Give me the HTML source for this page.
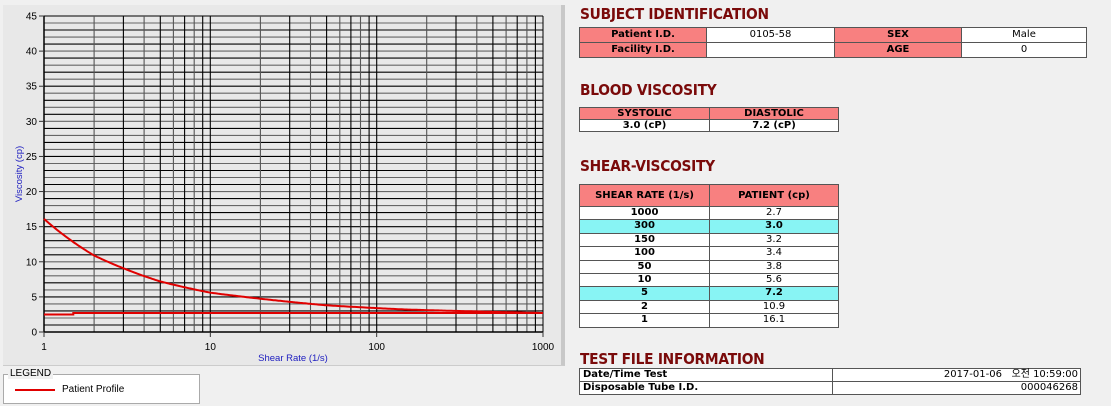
<!DOCTYPE html>
<html><head><meta charset="utf-8"><style>
body{margin:0;width:1111px;height:406px;background:#f0f0f0;position:relative;overflow:hidden;font-family:"Liberation Sans","Noto Sans CJK KR",sans-serif}
.h{position:absolute;left:580px;color:#7a0a0a;font-weight:bold;font-size:15px;font-family:"DejaVu Sans",sans-serif;letter-spacing:-0.3px;transform:scaleX(0.92);transform-origin:left}
table{position:absolute;border-collapse:collapse;font-family:"DejaVu Sans","Noto Sans CJK KR",sans-serif;font-size:10px}
td{border:1px solid #555;padding:0;text-align:center;line-height:14px;height:14px;white-space:nowrap}
.r{background:#f88080;font-weight:bold}
.w{background:#fff}
.b{font-weight:bold}
.c td{background:#88f4f4;font-weight:bold}
</style></head><body>
<div style="position:absolute;left:3px;top:5px;width:558px;height:360px;background:#e8e8e8;border-right:4px solid #c8c8c8;border-bottom:1px solid #ccc"></div>
<svg id="g" style="position:absolute;left:0;top:0" width="570" height="406" font-family="Liberation Sans, sans-serif" font-size="10"></svg>
<div style="position:absolute;left:3px;top:374px;width:195px;height:28px;border:1px solid #aaa;background:#fff"></div>
<div style="position:absolute;left:8px;top:368px;background:#f0f0f0;font-size:10px;padding:0 2px">LEGEND</div>
<div style="position:absolute;left:15px;top:389px;width:40px;height:2px;background:#e00000"></div>
<div style="position:absolute;left:62px;top:384px;font-size:10px">Patient Profile</div>

<div class="h" style="top:5px">SUBJECT IDENTIFICATION</div>
<table style="left:579px;top:27px;width:508px">
<tr><td class="r" style="width:126px">Patient I.D.</td><td class="w" style="width:127px">0105-58</td><td class="r" style="width:126px">SEX</td><td class="w">Male</td></tr>
<tr><td class="r">Facility I.D.</td><td class="w"></td><td class="r">AGE</td><td class="w">0</td></tr></table>

<div class="h" style="top:81px">BLOOD VISCOSITY</div>
<table style="left:579px;top:107px;width:260px;font-size:10px">
<tr><td class="r" style="width:129px;line-height:11px;height:11px">SYSTOLIC</td><td class="r" style="line-height:11px;height:11px">DIASTOLIC</td></tr>
<tr><td class="w b" style="line-height:11px;height:11px">3.0 (cP)</td><td class="w b" style="line-height:11px;height:11px">7.2 (cP)</td></tr></table>

<div class="h" style="top:157px">SHEAR-VISCOSITY</div>
<table style="left:579px;top:184px;width:260px" id="sv">
<tr><td class="r" style="width:129px;height:21px">SHEAR RATE (1/s)</td><td class="r" style="height:21px">PATIENT (cp)</td></tr>
</table>

<div class="h" style="top:350px">TEST FILE INFORMATION</div>
<table style="left:579px;top:368px;width:502px">
<tr><td class="w b" style="width:249px;text-align:left;padding-left:3px;line-height:12px;height:12px">Date/Time Test</td><td class="w" style="text-align:right;padding-right:2px;line-height:12px;height:12px">2017-01-06 &nbsp; 오전 10:59:00</td></tr>
<tr><td class="w b" style="text-align:left;padding-left:3px;line-height:12px;height:12px">Disposable Tube I.D.</td><td class="w" style="text-align:right;padding-right:2px;line-height:12px;height:12px">000046268</td></tr></table>
<script>
var rows=[["1000","2.7"],["300","3.0",1],["150","3.2"],["100","3.4"],["50","3.8"],["10","5.6"],["5","7.2",1],["2","10.9"],["1","16.1"]];
var t=document.getElementById('sv');
rows.forEach(function(r){var tr=document.createElement('tr');if(r[2])tr.className='c';tr.innerHTML='<td class="w b" style="line-height:12.4px;height:12.4px">'+r[0]+'</td><td class="w" style="line-height:12.4px;height:12.4px">'+r[1]+'</td>';t.appendChild(tr);});
var g=document.getElementById('g'),s='';
var X0=44,X1=543,Y0=332,Y1=16;
function X(v){return X0+(X1-X0)*Math.log10(v)/3}
function Y(v){return Y0-(Y0-Y1)*v/45}
for(var i=1;i<=45;i++){var y=Y(i).toFixed(1);s+='<line x1="'+X0+'" x2="'+X1+'" y1="'+y+'" y2="'+y+'" stroke="'+(i%2?'#000':'#666')+'" stroke-width="1.1"/>';}
for(var d=1;d<1000;d*=10)for(var k=1;k<10;k++){var x=X(d*k).toFixed(1);if(d*k==1)continue;s+='<line x1="'+x+'" x2="'+x+'" y1="'+Y1+'" y2="'+Y0+'" stroke="'+(k%2?'#000':'#555')+'" stroke-width="1.1"/>';}
s+='<line x1="'+X1+'" x2="'+X1+'" y1="'+Y1+'" y2="'+Y0+'" stroke="#000"/>';
s+='<line x1="'+X0+'" x2="'+X0+'" y1="'+Y1+'" y2="'+Y0+'" stroke="#000" stroke-width="1.5"/>';
s+='<line x1="'+X0+'" x2="'+X1+'" y1="'+Y0+'" y2="'+Y0+'" stroke="#000" stroke-width="1.5"/>';
for(var i=0;i<=45;i+=5){var y=Y(i);s+='<line x1="39" x2="44" y1="'+y+'" y2="'+y+'" stroke="#333"/><text x="37" y="'+(y+3.5)+'" text-anchor="end">'+i+'</text>';}
[1,10,100,1000].forEach(function(v){var x=X(v);s+='<line x1="'+x+'" x2="'+x+'" y1="332" y2="337" stroke="#333"/><text x="'+x+'" y="350" text-anchor="middle">'+v+'</text>';});
s+='<text x="293" y="361" text-anchor="middle" fill="#2020c0" font-size="9.5">Shear Rate (1/s)</text>';
s+='<text transform="translate(22,174) rotate(-90)" text-anchor="middle" fill="#2020c0" font-size="9.5">Viscosity (cp)</text>';
var D=[[1,16.1],[2,10.9],[5,7.2],[10,5.6],[50,3.8],[100,3.4],[150,3.2],[300,3.0],[1000,2.7]];
function vis(v){var L=Math.log(v);for(var j=0;j<D.length-1;j++){if(v<=D[j+1][0]){var a=Math.log(D[j][0]),b=Math.log(D[j+1][0]),f=(L-a)/(b-a);return Math.exp(Math.log(D[j][1])*(1-f)+Math.log(D[j+1][1])*f);}}return 2.7;}
var pts=[];
for(var i=0;i<=300;i++){var v=Math.pow(10,3*i/300);pts.push(X(v).toFixed(1)+','+Y(vis(v)).toFixed(1));}
s+='<polyline points="'+pts.join(' ')+'" fill="none" stroke="#e00000" stroke-width="2"/>';
s+='<polyline points="'+X0+','+Y(2.5)+' '+X(1.5)+','+Y(2.5)+' '+X(1.5)+','+Y(2.7)+' '+X1+','+Y(2.7)+'" fill="none" stroke="#e00000" stroke-width="2"/>';
g.innerHTML=s;
</script>
</body></html>
